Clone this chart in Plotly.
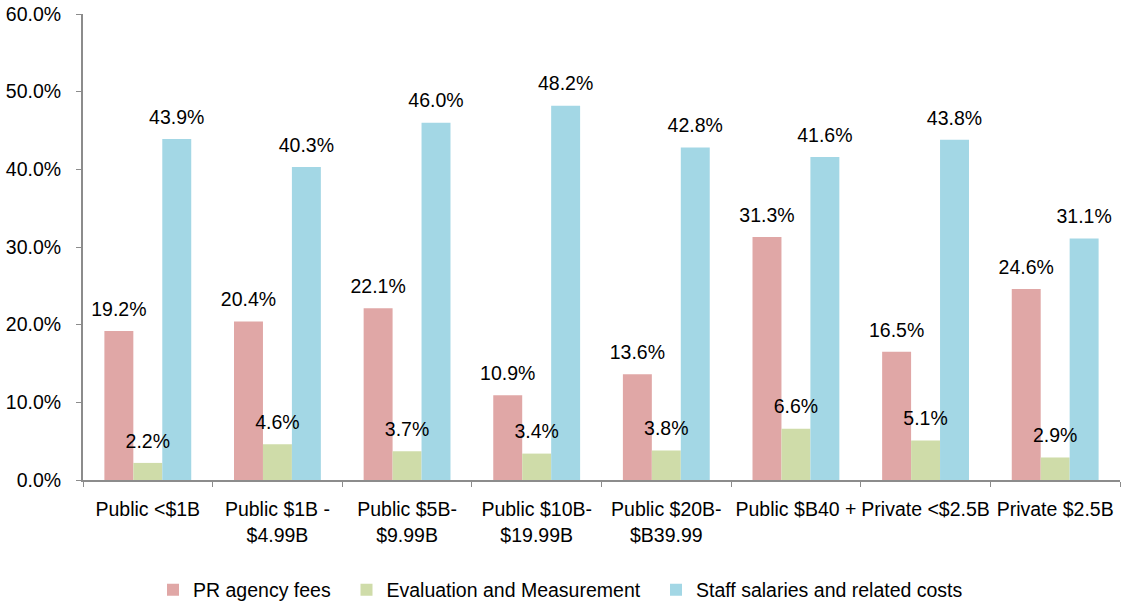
import plotly.graph_objects as go

categories = ["Public <$1B", "Public $1B -<br>$4.99B", "Public $5B-<br>$9.99B",
              "Public $10B-<br>$19.99B", "Public $20B-<br>$B39.99", "Public $B40 +",
              "Private <$2.5B", "Private $2.5B"]
series_names = ["PR agency fees", "Evaluation and Measurement", "Staff salaries and related costs"]
pr_fees = [19.2, 20.4, 22.1, 10.9, 13.6, 31.3, 16.5, 24.6]
evaluation = [2.2, 4.6, 3.7, 3.4, 3.8, 6.6, 5.1, 2.9]
staff = [43.9, 40.3, 46.0, 48.2, 42.8, 41.6, 43.8, 31.1]
colors = ["#E0A7A6", "#CFDCA9", "#A3D7E5"]
legend_pad = [2, 2, 0]

FONT = "Liberation Sans, Arial, sans-serif"
FS = 19.5
GAP = 0.33

fig = go.Figure()
for i, (name, vals, col) in enumerate(zip(series_names, [pr_fees, evaluation, staff], colors)):
    fig.add_trace(go.Bar(
        x=categories, y=vals, name=name + "\u00a0" * legend_pad[i],
        marker=dict(color=col, line=dict(width=0)),
        offsetgroup=str(i), hoverinfo="x+y",
    ))
for i, vals in enumerate([pr_fees, evaluation, staff]):
    fig.add_trace(go.Scatter(
        x=categories, y=vals, mode="markers+text",
        text=[f"{v:.1f}%" for v in vals], textposition="top center",
        textfont=dict(family=FONT, size=FS, color="black"),
        marker=dict(size=15, opacity=0), offsetgroup=str(i),
        showlegend=False, hoverinfo="skip", cliponaxis=False,
    ))

fig.update_layout(
    barmode="group", bargap=GAP, bargroupgap=0,
    scattermode="group", scattergap=GAP,
    width=1121, height=603,
    margin=dict(l=83, r=1, t=14, b=123),
    paper_bgcolor="white", plot_bgcolor="white",
    font=dict(family=FONT, size=FS, color="black"),
    showlegend=True,
    legend=dict(orientation="h", xref="container", yref="container",
                x=0.5, xanchor="center", y=0.0216, yanchor="middle",
                font=dict(size=FS), traceorder="normal"),
)
fig.update_yaxes(range=[0, 60], dtick=10, tickformat=".1f", ticksuffix="%",
                 showgrid=False, showline=True, linecolor="#8C8C8C", linewidth=2,
                 ticks="outside", ticklen=5, tickcolor="#8C8C8C", zeroline=False,
                 tickfont=dict(size=FS), automargin=False, ticklabelstandoff=11)
fig.update_xaxes(showgrid=False, showline=True, linecolor="#8C8C8C", linewidth=2,
                 ticks="outside", ticklen=5, tickcolor="#8C8C8C", tickson="boundaries",
                 tickangle=0, tickfont=dict(size=FS), automargin=False,
                 ticklabelstandoff=11)

# remove the default 8px page margin so the figure fills the window exactly
fig.write_html("out.html", config={"displayModeBar": False},
               post_script="document.body.style.margin='0';")
